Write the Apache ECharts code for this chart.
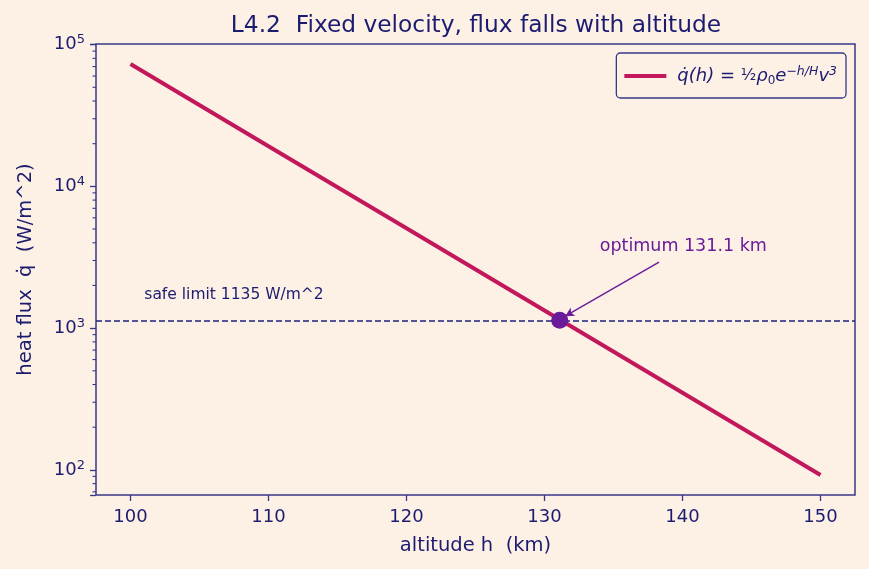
<!DOCTYPE html>
<html lang="en">
<head>
  <meta charset="UTF-8">
  <title>L4.2 heat flux vs altitude</title>
  <script src="https://cdn.jsdelivr.net/npm/echarts@6/dist/echarts.min.js"></script>
  <style>
    html, body { margin: 0; padding: 0; background: #fdf1e6; }
    #chart { width: 869px; height: 569px; }
  </style>
</head>
<body>
  <div id="chart"></div>
  <script>
    // values
    const altitudes = [100, 110, 120, 130, 140, 150]
    const heatFlux = [73000, 19200, 5060, 1330, 350, 92]
    const optimum = [131.1, 1135]
    const safeLimit = 1135
    const minorTicks = [70, 80, 90, 200, 300, 400, 500, 600, 700, 800, 900,
      2000, 3000, 4000, 5000, 6000, 7000, 8000, 9000,
      20000, 30000, 40000, 50000, 60000, 70000, 80000, 90000]
    // annotation anchors (data coords)
    const safeLabelAt = [101, 1706]
    const arrowFrom = [138.3, 2920]
    const arrowTo = [131.5, 1215]
    const annotationAt = [134, 3780]

    const xMin = 97.5, xMax = 152.5
    const yMin = 66.5, yMax = 101000

    const bg = '#fdf1e6'
    const navy = '#1b1b6f'
    const frame = '#383888'
    const crimson = '#c2185b'
    const purple = '#6a1b9a'
    const font = 'DejaVu Sans'

    const chart = echarts.init(document.querySelector('#chart'))

    const notes = [
      { at: safeLabelAt, text: 'safe limit 1135 W/m^2', color: navy, size: 15.5 },
      { at: annotationAt, text: 'optimum 131.1 km', color: purple, size: 17.5 }
    ]

    chart.setOption({
      backgroundColor: bg,
      animation: false,
      title: {
        text: 'L4.2  Fixed velocity, flux falls with altitude',
        left: 471, top: 9, textAlign: 'center',
        textStyle: { color: navy, fontSize: 23.3, fontWeight: 'normal', fontFamily: font }
      },
      grid: { left: 96, right: 14, top: 44, bottom: 74, show: true, borderColor: frame, borderWidth: 1.5, backgroundColor: 'transparent' },
      legend: {
        right: 23, top: 53,
        padding: [12, 9, 11, 8],
        borderColor: frame, borderWidth: 1.3, borderRadius: 4,
        backgroundColor: bg,
        itemWidth: 42, itemHeight: 4,
        icon: 'rect',
        data: ['q'],
        formatter: () => '{i|q̇(h)}{n| = }{f|½}{i|ρ}{sub|0}{i|e}{sup|−h/H}{i|v}{sup|3}',
        textStyle: {
          color: navy, fontSize: 18, fontFamily: font, padding: [0, 0, 0, 6],
          rich: {
            i: { fontStyle: 'italic', fontSize: 18, color: navy, fontFamily: font },
            n: { fontSize: 18, color: navy, fontFamily: font },
            f: { fontSize: 16, color: navy, fontFamily: font },
            sub: { fontSize: 12, verticalAlign: 'top', padding: [10, 0, 0, 0], color: navy, fontFamily: font },
            sup: { fontStyle: 'italic', fontSize: 12.5, verticalAlign: 'bottom', padding: [0, 0, 9, 0], color: navy, fontFamily: font }
          }
        }
      },
      xAxis: {
        type: 'value', min: xMin, max: xMax, splitNumber: 5,
        name: 'altitude h  (km)', nameLocation: 'middle', nameGap: 41,
        nameTextStyle: { color: navy, fontSize: 19.5, fontFamily: font },
        axisLine: { show: false },
        axisTick: { show: true, length: 6, lineStyle: { color: frame, width: 1.3 } },
        splitLine: { show: false },
        axisLabel: {
          color: navy, fontSize: 18, margin: 13, fontFamily: font,
          showMinLabel: false, showMaxLabel: false,
          formatter: v => (v % 10 === 0 ? String(v) : '')
        }
      },
      yAxis: {
        type: 'log', min: yMin, max: yMax, logBase: 10,
        name: 'heat flux  q̇  (W/m^2)', nameLocation: 'middle', nameGap: 60,
        nameTextStyle: { color: navy, fontSize: 19.5, fontFamily: font },
        axisLine: { show: false },
        axisTick: { show: true, length: 6, lineStyle: { color: frame, width: 1.3 } },
        splitLine: { show: false },
        axisLabel: {
          color: navy, fontSize: 18, margin: 11, fontFamily: font,
          formatter: v => {
            const e = Math.log10(v)
            if (Math.abs(e - Math.round(e)) > 1e-6) return ''
            return '10{s|' + Math.round(e) + '}'
          },
          rich: { s: { fontSize: 13, verticalAlign: 'bottom', padding: [0, 0, 9, 0], color: navy, fontFamily: font } }
        }
      },
      series: [
        {
          name: 'q', type: 'line',
          data: altitudes.map((h, i) => [h, heatFlux[i]]),
          showSymbol: false, symbol: 'none',
          lineStyle: { color: crimson, width: 4 },
          itemStyle: { color: crimson },
          z: 3,
          markLine: {
            silent: true, symbol: 'none',
            lineStyle: { color: '#1a237e', type: [6, 3], width: 1.7 },
            label: { show: false },
            data: [{ yAxis: safeLimit }]
          }
        },
        {
          name: 'arrow', type: 'line', data: [],
          markLine: {
            silent: true, symbol: ['none', 'arrow'], symbolSize: [7, 9],
            lineStyle: { color: purple, type: 'solid', width: 1.4 },
            label: { show: false },
            data: [[{ coord: arrowFrom }, { coord: arrowTo }]]
          }
        },
        {
          name: 'optimum', type: 'scatter',
          data: [optimum], symbolSize: 17,
          itemStyle: { color: purple, opacity: 1 }, z: 5
        },
        {
          name: 'notes', type: 'custom', silent: true, clip: false,
          data: notes.map(n => n.at),
          encode: { x: 0, y: 1 },
          renderItem: (params, api) => {
            const n = notes[params.dataIndex]
            const p = api.coord([api.value(0), api.value(1)])
            return {
              type: 'text',
              style: { x: p[0], y: p[1], text: n.text, fill: n.color, fontSize: n.size, fontFamily: font, textAlign: 'left', textVerticalAlign: 'middle' }
            }
          }
        },
        {
          name: 'minor', type: 'custom', silent: true, clip: false,
          data: minorTicks.map(v => [xMin, v]),
          encode: { x: 0, y: 1 },
          renderItem: (params, api) => {
            const p = api.coord([api.value(0), api.value(1)])
            return {
              type: 'line',
              shape: { x1: p[0] - 3.5, y1: p[1], x2: p[0], y2: p[1] },
              style: { stroke: frame, lineWidth: 1.1 }
            }
          }
        }
      ]
    })
  </script>
</body>
</html>
